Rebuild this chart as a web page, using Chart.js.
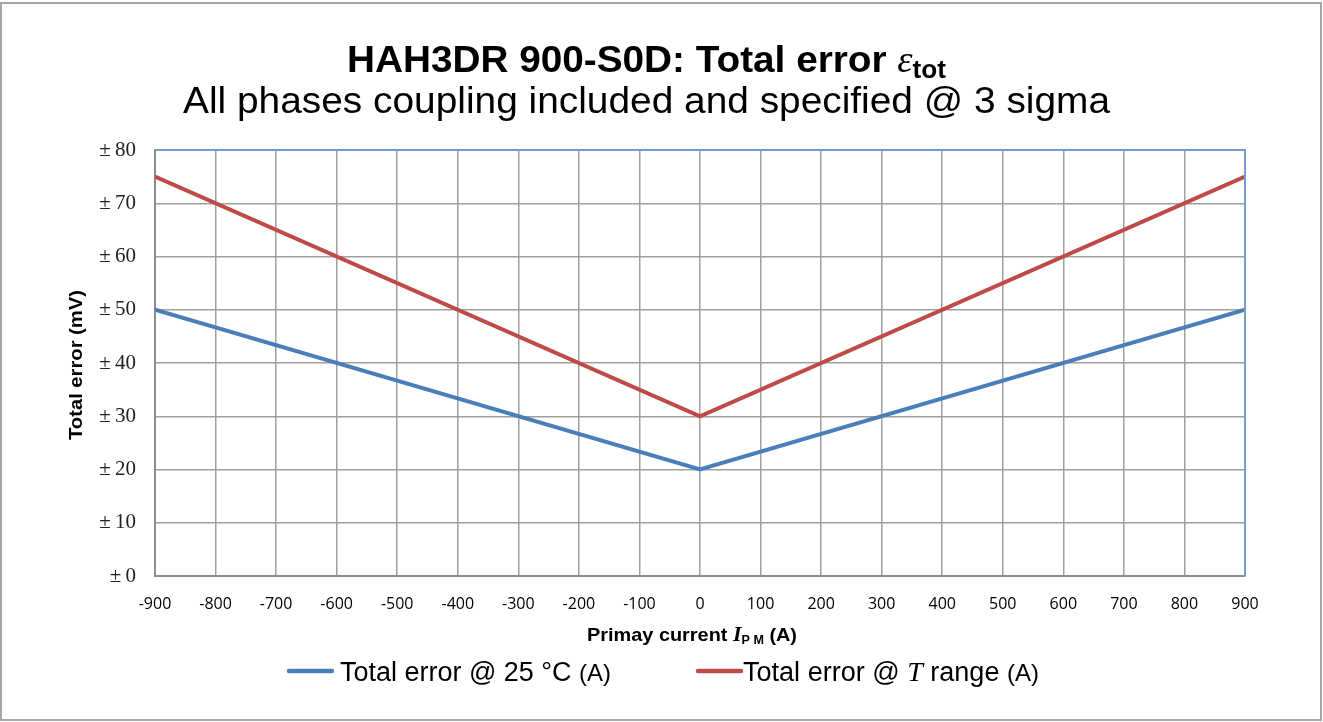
<!DOCTYPE html>
<html>
<head>
<meta charset="utf-8">
<script src="https://cdn.jsdelivr.net/npm/chart.js@4.4.1/dist/chart.umd.min.js"></script>
<style>
    body { margin: 0; background: #ffffff; }
    #grafico { position: absolute; left: 0; top: 0; width: 1323px; height: 722px; }
</style>
</head>
<body>
<div id="grafico"><canvas id="lineChartErro" width="1323" height="722"></canvas></div>
<script>
// dados
const correntes = [-900, 0, 900];
const erro25 = [50, 20, 50];
const erroFaixaT = [75, 30, 75];
const ticksX = [-900, -800, -700, -600, -500, -400, -300, -200, -100, 0, 100, 200, 300, 400, 500, 600, 700, 800, 900];
const ticksY = [0, 10, 20, 30, 40, 50, 60, 70, 80];

const azul = 'rgb(74, 126, 187)';
const vermelho = 'rgb(190, 75, 72)';
const sans = '"Liberation Sans", Arial, sans-serif';
const serif = '"Liberation Serif", "DejaVu Serif", serif';

// desenha texto com partes em fontes diferentes (subscrito, italico)
// se largura for informada, ajusta o texto na horizontal ate ela
function desenharTrechos(ctx, trechos, x, y, alinhamento, largura) {
    let total = 0;
    trechos.forEach((t) => {
        ctx.font = t.font;
        total += ctx.measureText(t.text).width;
    });
    let escala = largura ? largura / total : 1;
    let inicio = alinhamento == 'center' ? x - total * escala / 2 : x;
    ctx.save();
    ctx.translate(inicio, y);
    ctx.scale(escala, 1);
    ctx.textAlign = 'left';
    ctx.textBaseline = 'alphabetic';
    let posX = 0;
    trechos.forEach((t) => {
        ctx.font = t.font;
        ctx.fillStyle = t.color || '#000';
        ctx.fillText(t.text, posX, t.dy || 0);
        posX += ctx.measureText(t.text).width;
    });
    ctx.restore();
}

const pluginTextos = {
    id: 'textos',
    afterDraw(chart) {
        const ctx = chart.ctx;
        const area = chart.chartArea;
        ctx.save();

        // borda de cima e da direita em azul claro
        ctx.strokeStyle = 'rgb(120, 156, 208)';
        ctx.lineWidth = 2;
        ctx.beginPath();
        ctx.moveTo(area.left, area.top);
        ctx.lineTo(area.right, area.top);
        ctx.lineTo(area.right, area.bottom);
        ctx.stroke();

        // borda externa
        ctx.strokeStyle = '#a6a6a6';
        ctx.lineWidth = 2;
        ctx.strokeRect(1, 3, 1320, 717);

        // titulo
        desenharTrechos(ctx, [
            { text: 'HAH3DR 900-S0D: Total error ', font: 'bold 37px ' + sans },
            { text: '\u03b5', font: 'italic 37px ' + serif },
            { text: 'tot', font: 'bold 25px ' + sans, dy: 6 }
        ], 347, 72, 'left', 599);
        desenharTrechos(ctx, [
            { text: 'All phases coupling included and specified @ 3 sigma', font: '37px ' + sans }
        ], 183, 113, 'left', 927);

        // titulo do eixo x
        desenharTrechos(ctx, [
            { text: 'Primay current ', font: 'bold 19px ' + sans },
            { text: 'I', font: 'bold italic 21px ' + serif },
            { text: 'P M', font: 'bold 12px ' + sans, dy: 3 },
            { text: ' (A)', font: 'bold 19px ' + sans }
        ], 587, 641, 'left', 210);

        // titulo do eixo y
        ctx.save();
        ctx.translate(82, 365);
        ctx.rotate(-Math.PI / 2);
        desenharTrechos(ctx, [
            { text: 'Total error (mV)', font: 'bold 19px ' + sans }
        ], 0, 0, 'center', 150);
        ctx.restore();

        // legenda
        const series = [
            { cor: azul, x: 289, texto: 340, largura: 271, trechos: [
                { text: 'Total error @ 25 \u00b0C ', font: '27px ' + sans },
                { text: '(A)', font: '24px ' + sans }
            ] },
            { cor: vermelho, x: 698, texto: 743, largura: 296, trechos: [
                { text: 'Total error @ ', font: '27px ' + sans },
                { text: 'T', font: 'italic 28px ' + serif },
                { text: ' range ', font: '27px ' + sans },
                { text: '(A)', font: '24px ' + sans }
            ] }
        ];
        series.forEach((s) => {
            ctx.strokeStyle = s.cor;
            ctx.lineWidth = 4.5;
            ctx.lineCap = 'round';
            ctx.beginPath();
            ctx.moveTo(s.x, 671);
            ctx.lineTo(s.x + 43, 671);
            ctx.stroke();
            desenharTrechos(ctx, s.trechos, s.texto, 681, 'left', s.largura);
        });

        ctx.restore();
    }
};

const dadosErro = {
    datasets: [{
        label: 'Total error @ 25 °C (A)',
        data: correntes.map((c, i) => ({ x: c, y: erro25[i] })),
        borderColor: azul,
        backgroundColor: azul,
        borderWidth: 4,
        pointRadius: 0,
        fill: false,
        tension: 0
    },
    {
        label: 'Total error @ T range (A)',
        data: correntes.map((c, i) => ({ x: c, y: erroFaixaT[i] })),
        borderColor: vermelho,
        backgroundColor: vermelho,
        borderWidth: 4,
        pointRadius: 0,
        fill: false,
        tension: 0
    }]
};

const configErro = {
    type: 'line',
    data: dadosErro,
    options: {
        responsive: false,
        animation: false,
        layout: { padding: { top: 150, right: 78, left: 0, bottom: 0 } },
        plugins: {
            legend: { display: false },
            title: { display: false },
            tooltip: { enabled: false }
        },
        scales: {
            x: {
                type: 'linear',
                min: -900,
                max: 900,
                afterFit: (escala) => { escala.height = 146; },
                afterBuildTicks: (escala) => { escala.ticks = ticksX.map((v) => ({ value: v })); },
                grid: { color: '#a0a0a0', lineWidth: 1.5, drawTicks: false },
                border: { color: '#8c8c8c', width: 2 },
                ticks: {
                    padding: 19,
                    color: '#000',
                    font: { family: '"Open Sans", sans-serif', size: 16 },
                    maxRotation: 0,
                    callback: (v) => String(v)
                }
            },
            y: {
                min: 0,
                max: 80,
                afterFit: (escala) => { escala.width = 155; },
                afterBuildTicks: (escala) => { escala.ticks = ticksY.map((v) => ({ value: v })); },
                grid: { color: '#a0a0a0', lineWidth: 1.5, drawTicks: false },
                border: { color: '#8c8c8c', width: 2 },
                ticks: {
                    padding: 19,
                    color: '#222',
                    font: { family: serif, size: 21 },
                    callback: (v) => '\u00b1\u2009' + v
                }
            }
        }
    },
    plugins: [pluginTextos]
};

let myChartErro = new Chart(document.getElementById('lineChartErro'), configErro);
</script>
</body>
</html>
